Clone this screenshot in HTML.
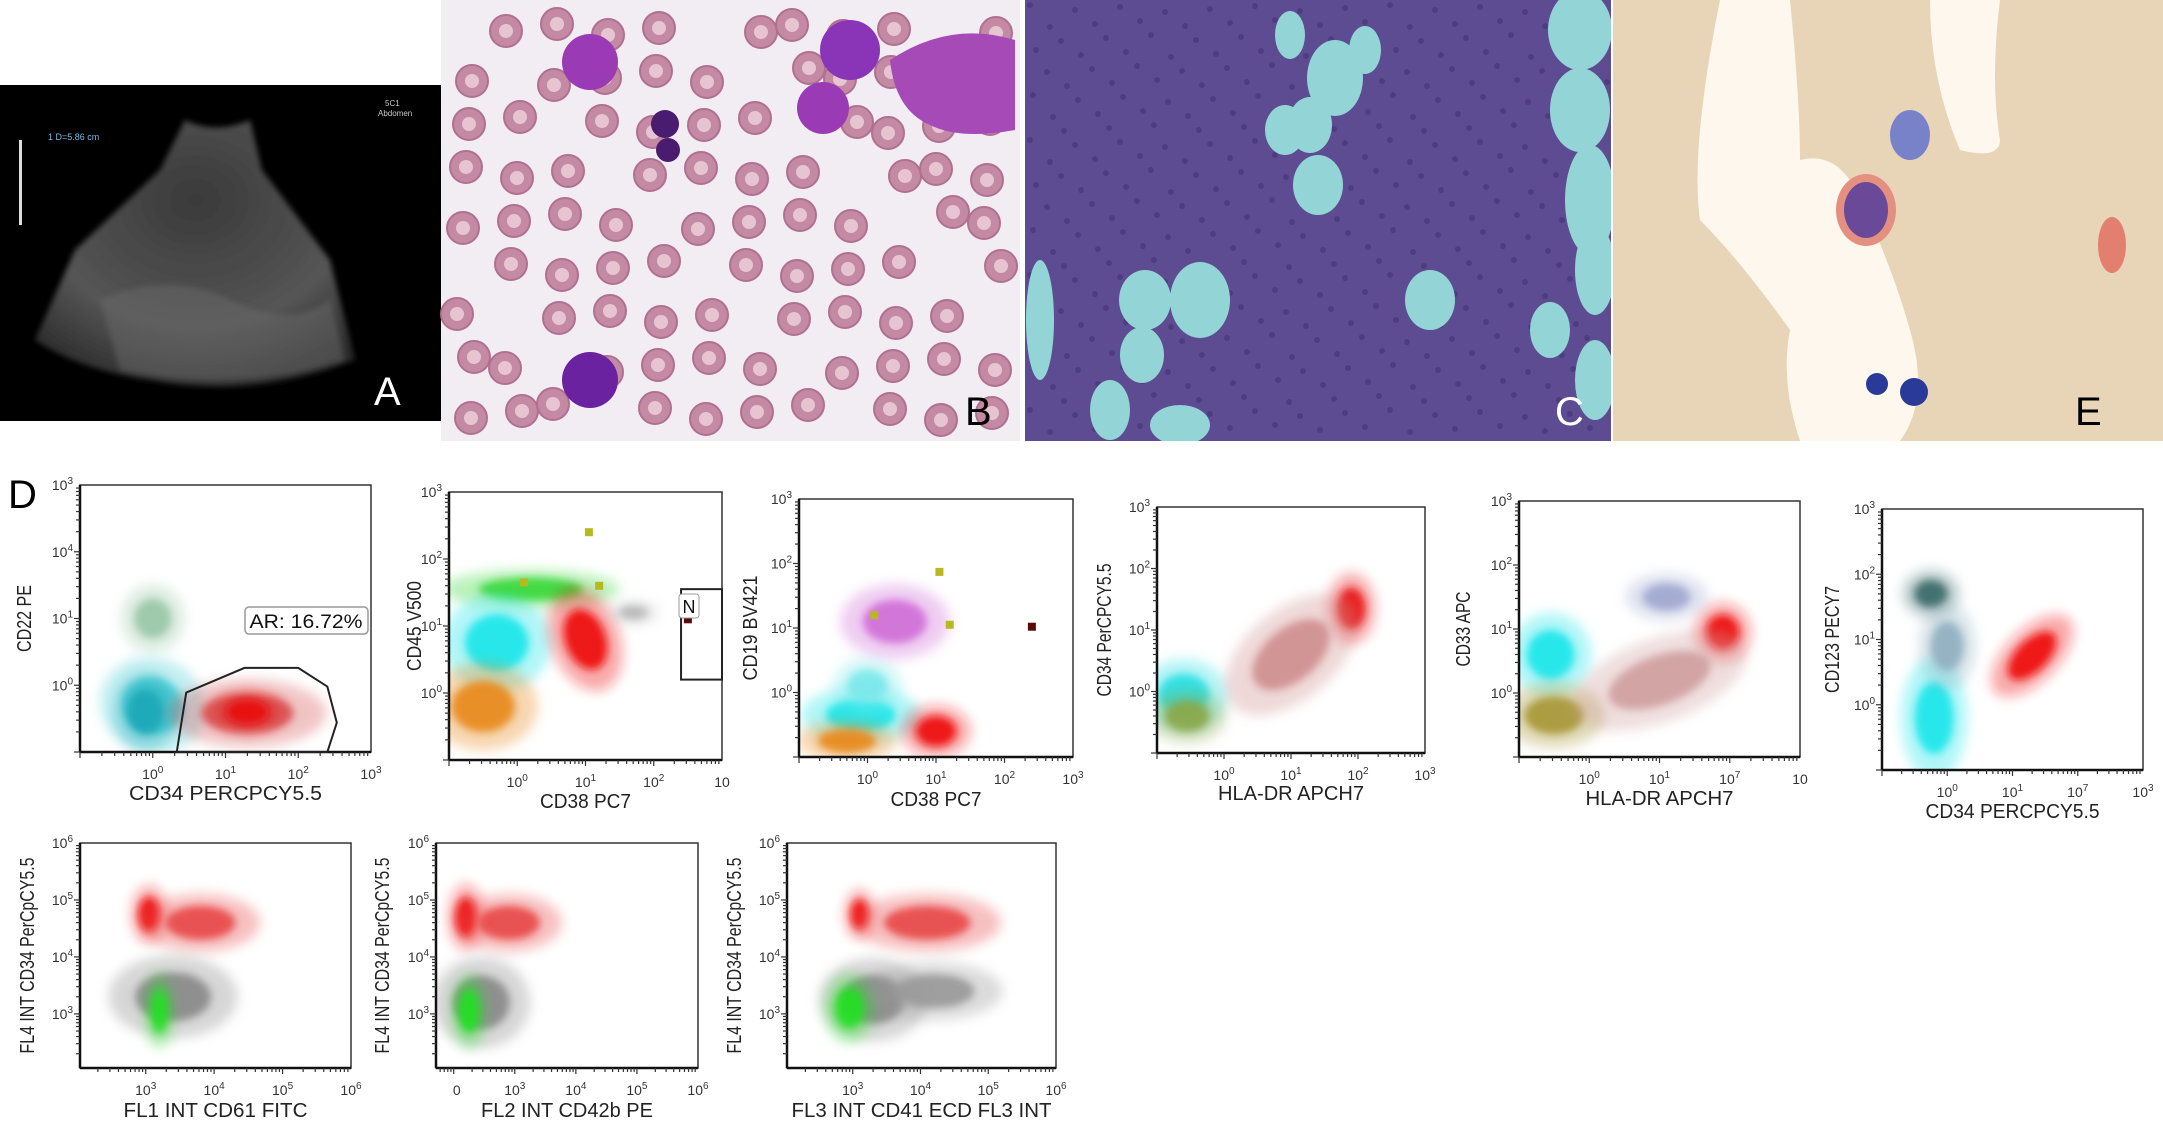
<!DOCTYPE html>
<html><head><meta charset="utf-8"><title>Figure</title>
<style>
html,body{margin:0;padding:0;background:#fff;}
body{width:2163px;height:1121px;overflow:hidden;font-family:"Liberation Sans",sans-serif;}
svg{display:block}
</style></head>
<body>
<svg id="fig" width="2163" height="1121" viewBox="0 0 2163 1121" xmlns="http://www.w3.org/2000/svg">
<defs>
<filter id="blur6" x="-50%" y="-50%" width="200%" height="200%"><feGaussianBlur stdDeviation="6"/></filter>
<filter id="blur4" x="-50%" y="-50%" width="200%" height="200%"><feGaussianBlur stdDeviation="4"/></filter>
<filter id="blur3" x="-50%" y="-50%" width="200%" height="200%"><feGaussianBlur stdDeviation="3"/></filter>
<radialGradient id="usg" cx="0.5" cy="0.3" r="0.8"><stop offset="0" stop-color="#3a3a3a"/><stop offset="0.6" stop-color="#555"/><stop offset="1" stop-color="#222"/></radialGradient>
<clipPath id="clipC"><rect x="1025" y="0" width="586" height="441"/></clipPath>
</defs>

<!-- Panel A ultrasound -->
<g>
<rect x="0" y="85" width="441" height="336" fill="#000"/>
<path d="M185,120 Q215,135 250,120 L262,170 L330,260 L355,360 Q250,400 150,380 Q80,370 35,340 L75,250 L160,170 Z" fill="url(#usg)" filter="url(#blur3)"/>
<path d="M100,300 Q170,270 230,300 Q290,330 330,300 L345,360 Q240,395 120,370 Z" fill="#6a6a6a" opacity="0.5" filter="url(#blur3)"/>
<text x="385" y="106" fill="#ccc" font-size="8">5C1</text>
<text x="378" y="116" fill="#ccc" font-size="8">Abdomen</text>
<text x="48" y="140" fill="#7fb8e8" font-size="9">1 D=5.86 cm</text>
<rect x="19" y="140" width="3" height="85" fill="#ddd"/>
<text x="374" y="405" fill="#fff" font-size="40">A</text>
</g>

<!-- Panel B smear -->
<g>
<rect x="441" y="0" width="579" height="441" fill="#f1edf3"/>
<g id="rbc"></g>
<circle cx="590" cy="62" r="28" fill="#9a3ab5"/>
<circle cx="850" cy="50" r="30" fill="#8a35b8"/>
<circle cx="823" cy="108" r="26" fill="#9a3ab5"/>
<path d="M890,60 Q950,20 1015,40 L1015,130 Q960,140 930,125 Q895,110 890,60Z" fill="#a64ab8"/>
<circle cx="665" cy="124" r="14" fill="#4a1c70"/>
<circle cx="668" cy="150" r="12" fill="#4a1c70"/>
<circle cx="590" cy="380" r="28" fill="#6a22a0"/>
<text x="965" y="425" fill="#000" font-size="40">B</text>
</g>

<!-- Panel C histology -->
<g clip-path="url(#clipC)">
<rect x="1025" y="0" width="586" height="441" fill="#5e4c92"/>
<g id="ctex" fill="#2e2060" opacity="0.35"></g>
<g fill="#93d4d6">
<ellipse cx="1290" cy="35" rx="15" ry="24"/><ellipse cx="1365" cy="50" rx="16" ry="24"/>
<ellipse cx="1580" cy="30" rx="32" ry="40"/><ellipse cx="1335" cy="78" rx="28" ry="38"/>
<ellipse cx="1580" cy="110" rx="30" ry="42"/><ellipse cx="1285" cy="130" rx="20" ry="25"/>
<ellipse cx="1310" cy="125" rx="22" ry="28"/><ellipse cx="1318" cy="185" rx="25" ry="30"/>
<ellipse cx="1590" cy="200" rx="25" ry="55"/><ellipse cx="1595" cy="270" rx="20" ry="45"/>
<ellipse cx="1145" cy="300" rx="26" ry="30"/><ellipse cx="1200" cy="300" rx="30" ry="38"/>
<ellipse cx="1142" cy="355" rx="22" ry="28"/><ellipse cx="1430" cy="300" rx="25" ry="30"/>
<ellipse cx="1550" cy="330" rx="20" ry="28"/><ellipse cx="1110" cy="410" rx="20" ry="30"/>
<ellipse cx="1180" cy="425" rx="30" ry="20"/><ellipse cx="1595" cy="380" rx="20" ry="40"/>
<ellipse cx="1040" cy="320" rx="14" ry="60"/>
</g>
<text x="1555" y="425" fill="#fff" font-size="40">C</text>
</g>

<!-- Panel E smear -->
<g>
<rect x="1613" y="0" width="550" height="441" fill="#e8d5b8"/>
<path d="M1720,0 L1790,0 Q1800,100 1800,160 Q1840,150 1860,200 Q1890,260 1910,330 Q1930,400 1900,441 L1800,441 Q1780,380 1790,330 Q1740,260 1700,220 Q1690,150 1720,0Z" fill="#fdf7ee"/>
<path d="M1930,0 L2000,0 Q1990,80 2000,140 Q2000,160 1960,150 Q1930,80 1930,0Z" fill="#fdf7ee"/>
<ellipse cx="1910" cy="135" rx="20" ry="25" fill="#7882c8"/>
<ellipse cx="1866" cy="210" rx="30" ry="36" fill="#e49080"/>
<ellipse cx="1866" cy="210" rx="22" ry="28" fill="#6a4a98"/>
<circle cx="1877" cy="384" r="11" fill="#2a3a98"/>
<circle cx="1914" cy="392" r="14" fill="#2a3a98"/>
<ellipse cx="2112" cy="245" rx="14" ry="28" fill="#e05a50" opacity="0.7"/>
<text x="2075" y="425" fill="#000" font-size="40">E</text>
</g>

<text x="8" y="508" fill="#000" font-size="40">D</text>
<g id="plots"></g>
</svg>

<script>
// ---------- Chart data (log10 units) ----------
// cluster rows: [x, y, sx, sy, rotationDeg]
const p1Clusters=[[0.0,-0.3,0.45,0.55,-70],[-0.1,-0.4,0.3,0.4,0],[1.3,-0.42,0.75,0.35,0],[1.3,-0.4,0.35,0.22,0],[0.0,1.0,0.3,0.35,0]];
const p1Colors=["#4fd0d8","#1aa8b8","#d85a5a","#e81010","#9ac8a8"];
const p1Gate=[[0.33,-1],[0.46,-0.11],[1.26,0.26],[2.0,0.26],[2.4,-0.02],[2.53,-0.56],[2.4,-1]];

const p2Clusters=[[0.2,1.55,0.9,0.2,0],[-0.3,0.75,0.55,0.5,0],[1.0,0.8,0.35,0.55,-20],[-0.5,-0.2,0.55,0.45,0],[1.7,1.2,0.25,0.12,0]];
const p2Colors=["#3ad83a","#1ee6ea","#ee1010","#e88a1a","#b8b8b8"];
const p2Squares=[[1.05,2.4],[0.1,1.65],[1.2,1.6]];
const p2Gate=[[2.4,0.2],[3.0,1.55]];

const p3Clusters=[[-0.1,-0.35,0.6,0.3,0],[0.0,0.1,0.35,0.3,0],[1.0,-0.6,0.35,0.28,0],[-0.3,-0.75,0.5,0.22,0],[0.4,1.1,0.55,0.4,0]];
const p3Colors=["#1ee6ea","#7ae8ea","#ee1010","#e88a1a","#d070d8"];
const p3Squares=[[0.1,1.2],[1.05,1.87],[1.2,1.05]];

const p4Clusters=[[-0.6,-0.05,0.45,0.4,0],[-0.55,-0.4,0.4,0.3,0],[1.9,1.35,0.25,0.4,0],[1.0,0.6,0.8,0.5,-40]];
const p4Colors=["#2ae0e4","#8aa848","#e81818","#d09090"];

const p5Clusters=[[-0.55,0.6,0.4,0.45,0],[-0.5,-0.35,0.5,0.35,0],[1.9,0.95,0.28,0.32,0],[1.0,0.2,0.9,0.45,-20],[1.1,1.5,0.4,0.25,0]];
const p5Colors=["#1ee6ea","#a89838","#ee1010","#d0a0a0","#a0a8d0"];

const p6Clusters=[[-0.25,1.7,0.3,0.25,0],[-0.2,-0.2,0.35,0.65,0],[1.3,0.75,0.55,0.28,-45],[0.0,0.9,0.3,0.45,0]];
const p6Colors=["#3a6a6a","#1ee6ea","#ee1010","#90b0c0"];

const p7Clusters=[[3.05,4.75,0.18,0.35,0],[3.8,4.6,0.6,0.35,0],[3.4,3.3,0.65,0.5,0],[3.2,3.05,0.15,0.45,0]];
const p7Colors=["#ee1010","#e84848","#8a8a8a","#22e022"];
const p8Clusters=[[2.2,4.7,0.2,0.4,0],[2.9,4.6,0.6,0.35,0],[2.45,3.2,0.55,0.55,0],[2.25,3.05,0.2,0.45,0]];
const p8Colors=["#ee1010","#e84848","#8a8a8a","#22e022"];
const p9Clusters=[[3.1,4.75,0.15,0.3,0],[4.1,4.6,0.75,0.35,0],[3.3,3.25,0.55,0.5,0],[4.2,3.4,0.7,0.35,0],[2.95,3.1,0.25,0.42,0]];
const p9Colors=["#ee1010","#e84848","#8a8a8a","#9a9a9a","#22e022"];

const logTicks=[0,1,2,3];
const logTickLabels=["10^0","10^1","10^2","10^3"];
const yLogTicks=[0,1,2,3];
const row2Ticks=[3,4,5,6];
const row2Labels=["10^3","10^4","10^5","10^6"];

const NS="http://www.w3.org/2000/svg";
function mk(tag,attrs,parent){const e=document.createElementNS(NS,tag);for(const k in attrs)e.setAttribute(k,attrs[k]);if(parent)parent.appendChild(e);return e;}
function supLabel(g,x,y,lab,anchor){
  const t=mk('text',{x:x,y:y,'font-size':14,fill:'#333','text-anchor':anchor},g);
  
  
  const parts=lab.split('^');t.textContent=parts[0];
  if(parts[1]!==undefined){const s=mk('tspan',{'font-size':10,dy:-6},t);s.textContent=parts[1];}
  return t;
}
const root=document.getElementById('plots');
function plot(c){
  const g=mk('g',{},root);
  
  
  const sx=v=>c.x0+(v-c.xd[0])/(c.xd[1]-c.xd[0])*(c.x1-c.x0);
  const sy=v=>c.y1-(v-c.yd[0])/(c.yd[1]-c.yd[0])*(c.y1-c.y0);
  const dx=(c.x1-c.x0)/(c.xd[1]-c.xd[0]), dy=(c.y1-c.y0)/(c.yd[1]-c.yd[0]);
  const cg=mk('g',{'clip-path':'url(#clip-'+c.name+')'},g);
  const cp=mk('clipPath',{id:'clip-'+c.name},g);
  mk('rect',{x:c.x0,y:c.y0,width:c.x1-c.x0,height:c.y1-c.y0},cp);
  c.clusters.forEach((cl,i)=>{
    const cx=sx(cl[0]),cy=sy(cl[1]);
    const tr='rotate('+cl[4]+' '+cx+' '+cy+')';
    const h=mk('ellipse',{cx:cx,cy:cy,rx:cl[2]*dx*1.45,ry:cl[3]*dy*1.45,fill:c.colors[i],opacity:0.35,filter:'url(#blur6)',transform:tr},cg);
    
    
    const e=mk('ellipse',{cx:cx,cy:cy,rx:cl[2]*dx*0.85,ry:cl[3]*dy*0.85,fill:c.colors[i],opacity:0.92,filter:'url(#blur4)',transform:tr},cg);
    
    
  });
  (c.squares||[]).forEach(s=>{
    const r=mk('rect',{x:sx(s[0])-4,y:sy(s[1])-4,width:8,height:8,fill:'#b8b820'},g);
    
    
  });
  if(c.darkDot){const r=mk('rect',{x:sx(c.darkDot[0])-4,y:sy(c.darkDot[1])-4,width:8,height:8,fill:'#5a0a0a'},g);
    
    }
  const f=mk('rect',{x:c.x0,y:c.y0,width:c.x1-c.x0,height:c.y1-c.y0,fill:'none',stroke:'#333','stroke-width':1.5},g);
  
  
  mk('line',{x1:c.x0,y1:c.y0,x2:c.x0,y2:c.y1,stroke:'#111','stroke-width':2.5},g);
  mk('line',{x1:c.x0,y1:c.y1,x2:c.x1,y2:c.y1,stroke:'#111','stroke-width':2.5},g);
  for(let d=Math.floor(c.xd[0]);d<c.xd[1];d++)for(let m=1;m<10;m++){const v=d+Math.log10(m);if(v<c.xd[0]||v>c.xd[1])continue;
    mk('line',{x1:sx(v),y1:c.y1,x2:sx(v),y2:c.y1+(m==1?6:4),stroke:'#333','stroke-width':1.2},g);}
  for(let d=Math.floor(c.yd[0]);d<c.yd[1];d++)for(let m=1;m<10;m++){const v=d+Math.log10(m);if(v<c.yd[0]||v>c.yd[1])continue;
    mk('line',{x1:c.x0-(m==1?6:4),y1:sy(v),x2:c.x0,y2:sy(v),stroke:'#333','stroke-width':1.2},g);}
  c.xt.forEach((v,i)=>supLabel(g,sx(v),c.y1+27,c.xtl[i],'middle'));
  c.yt.forEach((v,i)=>supLabel(g,c.x0-7,sy(v)+5,c.ytl[i],'end'));
  const xt=mk('text',{x:(c.x0+c.x1)/2,y:c.xTitleY,'font-size':20,fill:'#222','text-anchor':'middle',textLength:c.xTitleLen,lengthAdjust:'spacingAndGlyphs'},g);
  xt.textContent=c.xTitle;
  
  
  const ym=(c.y0+c.y1)/2;
  const yt=mk('text',{x:c.yTitleX,y:ym,'font-size':20,fill:'#222','text-anchor':'middle',transform:'rotate(-90 '+c.yTitleX+' '+ym+')',dy:7,textLength:c.yTitleLen,lengthAdjust:'spacingAndGlyphs'},g);
  yt.textContent=c.yTitle;
  
  
  return {g,sx,sy};
}
const P1=plot({name:'plot-cd22-cd34',x0:80,y0:485,x1:371,y1:752,xd:[-1,3],yd:[-1,3],xt:logTicks,xtl:logTickLabels,yt:yLogTicks,ytl:["10^0","10^1","10^4","10^3"],xTitle:'CD34 PERCPCY5.5',xTitleY:800,xTitleLen:193,yTitle:'CD22 PE',yTitleX:24,yTitleLen:67,clusters:p1Clusters,colors:p1Colors});
{const pts=p1Gate.map(p=>P1.sx(p[0])+','+P1.sy(p[1])).join(' ');
 const gate=mk('polygon',{points:pts,fill:'none',stroke:'#222','stroke-width':2},P1.g);
 
 
 const b=mk('rect',{x:245,y:607,width:123,height:27,rx:4,fill:'#fff',stroke:'#999','stroke-width':1.5},P1.g);
 
 
 const t=mk('text',{x:306,y:628,'font-size':19,fill:'#111','text-anchor':'middle',textLength:113,lengthAdjust:'spacingAndGlyphs'},P1.g);t.textContent='AR: 16.72%';
 
 }

const P2=plot({name:'plot-cd45-cd38',x0:449,y0:492,x1:722,y1:760,xd:[-1,3],yd:[-1,3],xt:[0,1,2,3],xtl:["10^0","10^1","10^2","10"],yt:yLogTicks,ytl:logTickLabels,xTitle:'CD38 PC7',xTitleY:808,xTitleLen:91,yTitle:'CD45 V500',yTitleX:414,yTitleLen:90,clusters:p2Clusters,colors:p2Colors,squares:p2Squares,darkDot:[2.5,1.1]});
{const a=p2Gate;const r=mk('rect',{x:P2.sx(a[0][0]),y:P2.sy(a[1][1]),width:P2.sx(a[1][0])-P2.sx(a[0][0]),height:P2.sy(a[0][1])-P2.sy(a[1][1]),fill:'none',stroke:'#222','stroke-width':2},P2.g);
 
 
 const b=mk('rect',{x:679,y:594,width:20,height:24,rx:3,fill:'#fff',stroke:'#999'},P2.g);
 const t=mk('text',{x:689,y:613,'font-size':18,fill:'#111','text-anchor':'middle'},P2.g);t.textContent='N';
 
 }

plot({name:'plot-cd19-cd38',x0:799,y0:499,x1:1073,y1:757,xd:[-1,3],yd:[-1,3],xt:logTicks,xtl:logTickLabels,yt:yLogTicks,ytl:logTickLabels,xTitle:'CD38 PC7',xTitleY:806,xTitleLen:91,yTitle:'CD19 BV421',yTitleX:750,yTitleLen:105,clusters:p3Clusters,colors:p3Colors,squares:p3Squares,darkDot:[2.4,1.02]});
plot({name:'plot-cd34-hladr',x0:1157,y0:507,x1:1425,y1:753,xd:[-1,3],yd:[-1,3],xt:logTicks,xtl:logTickLabels,yt:yLogTicks,ytl:logTickLabels,xTitle:'HLA-DR APCH7',xTitleY:800,xTitleLen:146,yTitle:'CD34 PerCPCY5.5',yTitleX:1104,yTitleLen:133,clusters:p4Clusters,colors:p4Colors});
plot({name:'plot-cd33-hladr',x0:1519,y0:501,x1:1800,y1:757,xd:[-1,3],yd:[-1,3],xt:logTicks,xtl:["10^0","10^1","10^7","10"],yt:yLogTicks,ytl:logTickLabels,xTitle:'HLA-DR APCH7',xTitleY:805,xTitleLen:148,yTitle:'CD33 APC',yTitleX:1463,yTitleLen:75,clusters:p5Clusters,colors:p5Colors});
plot({name:'plot-cd123-cd34',x0:1882,y0:509,x1:2143,y1:770,xd:[-1,3],yd:[-1,3],xt:logTicks,xtl:["10^0","10^1","10^7","10^3"],yt:yLogTicks,ytl:logTickLabels,xTitle:'CD34 PERCPCY5.5',xTitleY:818,xTitleLen:174,yTitle:'CD123 PECY7',yTitleX:1832,yTitleLen:107,clusters:p6Clusters,colors:p6Colors});

plot({name:'plot-cd34-cd61',x0:80,y0:843,x1:351,y1:1068,xd:[2.04,6],yd:[2.05,6],xt:row2Ticks,xtl:row2Labels,yt:row2Ticks,ytl:row2Labels,xTitle:'FL1 INT CD61 FITC',xTitleY:1117,xTitleLen:184,yTitle:'FL4 INT CD34 PerCpCY5.5',yTitleX:27,yTitleLen:196,clusters:p7Clusters,colors:p7Colors});
plot({name:'plot-cd34-cd42b',x0:436,y0:843,x1:698,y1:1068,xd:[1.71,6],yd:[2.05,6],xt:[2.05,3,4,5,6],xtl:["0","10^3","10^4","10^5","10^6"],yt:row2Ticks,ytl:row2Labels,xTitle:'FL2 INT CD42b PE',xTitleY:1117,xTitleLen:172,yTitle:'FL4 INT CD34 PerCpCY5.5',yTitleX:382,yTitleLen:196,clusters:p8Clusters,colors:p8Colors});
plot({name:'plot-cd34-cd41',x0:787,y0:843,x1:1056,y1:1068,xd:[2.03,6],yd:[2.05,6],xt:row2Ticks,xtl:row2Labels,yt:row2Ticks,ytl:row2Labels,xTitle:'FL3 INT CD41 ECD FL3 INT',xTitleY:1117,xTitleLen:260,yTitle:'FL4 INT CD34 PerCpCY5.5',yTitleX:734,yTitleLen:196,clusters:p9Clusters,colors:p9Colors});

// decorative red blood cells in panel B
(function(){const g=document.getElementById('rbc');
 for(let r=0;r<9;r++)for(let c=0;c<12;c++){
   const x=455+c*48+((r*37+c*23)%20), y=20+r*48+((r*13+c*29)%18);
   if(((r*7+c*3)%5)===0)continue;
   mk('circle',{cx:x,cy:y,r:16,fill:'#c58aa3',stroke:'#b07090','stroke-width':2},g);
   mk('circle',{cx:x,cy:y,r:7,fill:'#e6c4d2'},g);
 }})();
// decorative texture in panel C
(function(){const g=document.getElementById('ctex');
 for(let r=0;r<29;r++)for(let c=0;c<40;c++){
   if(((r*11+c*7)%3)!==0)continue;
   mk('circle',{cx:1030+c*15+((r*5)%9),cy:5+r*15+((c*7)%8),r:3},g);
 }})();
</script>
</body></html>
